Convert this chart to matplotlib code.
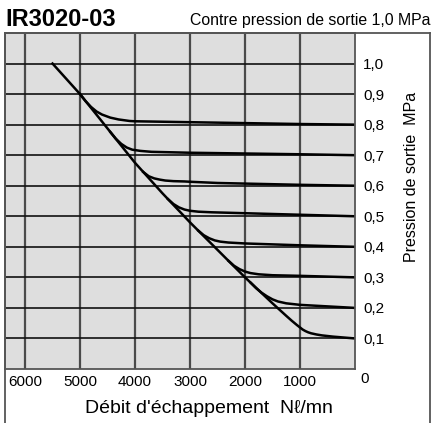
import matplotlib
matplotlib.use("Agg")
import matplotlib.pyplot as plt
from matplotlib.lines import Line2D

plt.rcParams['font.family'] = ['Liberation Sans', 'DejaVu Sans']

W, H = 432, 423

# Axis ticks
flow_ticks = [6000, 5000, 4000, 3000, 2000, 1000]
flow_labels = ["6000", "5000", "4000", "3000", "2000", "1000"]
pres_ticks = [0.1, 0.2, 0.3, 0.4, 0.5, 0.6, 0.7, 0.8, 0.9, 1.0]
pres_labels = ["0,1", "0,2", "0,3", "0,4", "0,5", "0,6", "0,7", "0,8", "0,9", "1,0"]

# Maximum flow envelope (ends on the 0.1 MPa setting)
env_flow = [5500, 5000, 4600, 4000, 3500, 3000, 2500, 2000, 1500, 1250, 1150, 1050, 1000,
            950, 900, 850, 800, 700, 600, 400, 0]
env_pres = [1.0, 0.9, 0.81, 0.675, 0.575, 0.48, 0.39, 0.30, 0.215, 0.174, 0.158, 0.143, 0.136,
            0.129, 0.124, 0.12, 0.117, 0.113, 0.11, 0.106, 0.1]

# Set-pressure characteristics branching off the envelope
flow_08 = [5000, 4900, 4800, 4700, 4600, 4450, 4300, 4100, 4000, 3000, 2000, 1000, 0]
pres_08 = [0.9, 0.877, 0.858, 0.843, 0.833, 0.823, 0.817, 0.812, 0.811, 0.808, 0.805, 0.802, 0.8]

flow_07 = [4450, 4350, 4250, 4150, 4050, 3900, 3700, 3000, 1000, 0]
pres_07 = [0.776, 0.754, 0.737, 0.725, 0.718, 0.714, 0.711, 0.708, 0.703, 0.7]

flow_06 = [3850, 3750, 3650, 3550, 3450, 3300, 3100, 3000, 2500, 1000, 0]
pres_06 = [0.645, 0.631, 0.624, 0.62, 0.617, 0.615, 0.614, 0.613, 0.609, 0.603, 0.6]

flow_05 = [3400, 3300, 3200, 3100, 3000, 2850, 2600, 2000, 1000, 0]
pres_05 = [0.556, 0.54, 0.529, 0.522, 0.518, 0.515, 0.513, 0.51, 0.505, 0.5]

flow_04 = [2850, 2750, 2650, 2550, 2450, 2300, 2000, 1000, 0]
pres_04 = [0.453, 0.438, 0.428, 0.421, 0.417, 0.414, 0.411, 0.405, 0.4]

flow_03 = [2300, 2200, 2100, 2000, 1900, 1750, 1500, 1000, 0]
pres_03 = [0.354, 0.338, 0.327, 0.319, 0.314, 0.31, 0.307, 0.305, 0.3]

flow_02 = [1900, 1800, 1700, 1600, 1500, 1400, 1250, 1000, 500, 0]
pres_02 = [0.283, 0.265, 0.25, 0.238, 0.228, 0.221, 0.215, 0.21, 0.205, 0.2]

branches = [(flow_08, pres_08), (flow_07, pres_07), (flow_06, pres_06),
            (flow_05, pres_05), (flow_04, pres_04), (flow_03, pres_03),
            (flow_02, pres_02)]


def fx(x):
    return x / W


def fy(y):
    return 1 - y / H


fig = plt.figure(figsize=(W / 100, H / 100), dpi=100)
fig.patch.set_facecolor("white")

ax_left, ax_right, ax_top, ax_bottom = 5, 355, 33, 369
ax = fig.add_axes([fx(ax_left), fy(ax_bottom), (ax_right - ax_left) / W, (ax_bottom - ax_top) / H])
ax.set_facecolor("#dedede")
ax.set_xlim(6364, 0)
ax.set_ylim(0, 1.1)

ax.set_xticks(flow_ticks)
ax.set_xticklabels(flow_labels, fontsize=11)
ax.set_yticks(pres_ticks)
ax.set_yticklabels(pres_labels, fontsize=11, ha="left")
ax.yaxis.tick_right()
ax.tick_params(axis="both", length=0)
ax.tick_params(axis="x", pad=4)
ax.tick_params(axis="y", pad=6)

ax.set_axisbelow(True)
ax.xaxis.grid(True, color="#4a4a4a", lw=1.6)
ax.yaxis.grid(True, color="#111111", lw=1.2)
for s in ax.spines.values():
    s.set_color("#555555")
    s.set_linewidth(1.3)

ax.plot(env_flow, env_pres, color="black", lw=1.8, solid_joinstyle="round")
for fl, pr in branches:
    ax.plot(fl, pr, color="black", lw=1.8, solid_joinstyle="round")

# Outer frame
frame_col = "#555555"
for (x0, y0, x1, y1) in [(5, 33, 5, 423), (5, 33, 430, 33), (430, 33, 430, 423)]:
    fig.add_artist(Line2D([fx(x0), fx(x1)], [fy(y0), fy(y1)], color=frame_col, lw=1.3))

fig.text(fx(5), fy(19), "IR3020-03", fontsize=17, fontweight="bold", ha="left", va="center")
fig.text(fx(430), fy(20), "Contre pression de sortie 1,0 MPa", fontsize=11.4, ha="right", va="center")
fig.text(fx(360), fy(379), "0", fontsize=11, ha="left", va="center")
fig.text(fx(209), fy(408), "Débit d'échappement  N\u2113/mn", fontsize=14, ha="center", va="center")
fig.text(fx(412), fy(177), "Pression de sortie  MPa", fontsize=11.5, rotation=90, ha="center", va="center")

fig.savefig("out.png", dpi=100)
